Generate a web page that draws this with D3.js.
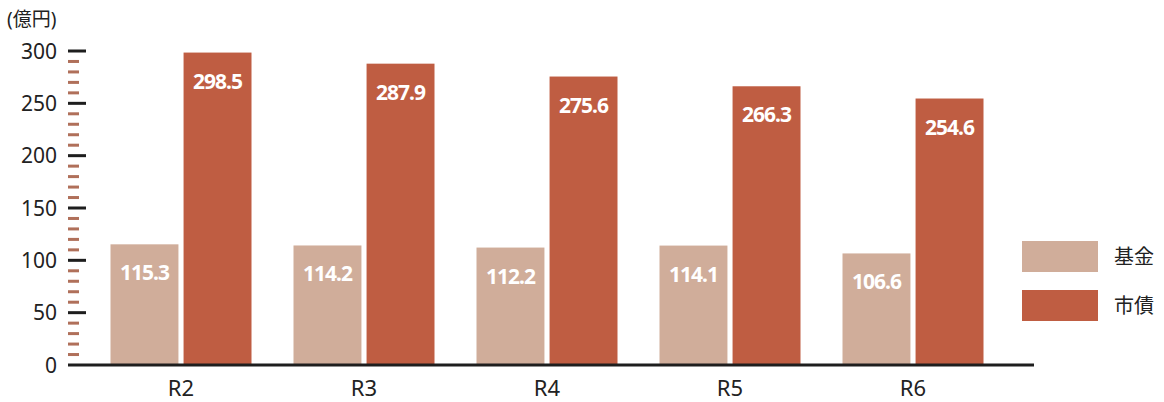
<!DOCTYPE html>
<html>
<head>
<meta charset="utf-8">
<script src="https://d3js.org/d3.v7.min.js"></script>
<style>
body { margin: 0; background: #fff; }
svg { font-family: "Noto Sans", "Noto Sans CJK JP", sans-serif; }
</style>
</head>
<body>
<svg id="chart" width="1164" height="402"></svg>
<script>
const categories = ["R2", "R3", "R4", "R5", "R6"];
const series = ["基金", "市債"];
const kikin = [115.3, 114.2, 112.2, 114.1, 106.6];
const shisai = [298.5, 287.9, 275.6, 266.3, 254.6];
const majorTicks = [0, 50, 100, 150, 200, 250, 300];
const colors = ["#d0ad9a", "#bf5d42"];

const svg = d3.select("#chart");
const y = d3.scaleLinear().domain([0, 300]).range([365, 51]);
const x0 = d3.scaleBand().domain(categories).range([89.5, 1004.5]);
const x1 = d3.scaleBand().domain(series).range([-70.5, 70.5]).paddingInner(0.07);
const color = d3.scaleOrdinal().domain(series).range(colors);

const rows = categories.map((c, i) => ({cat: c, values: [kikin[i], shisai[i]]}));

// minor ticks every 10
const minor = d3.range(10, 300, 10).filter(v => v % 50 != 0);
svg.append("g").selectAll("rect").data(minor).enter().append("rect")
  .attr("x", 68).attr("y", d => y(d) - 1.5)
  .attr("width", 11).attr("height", 3)
  .attr("fill", "#b0705a");

// major ticks
svg.append("g").selectAll("rect").data(majorTicks.filter(d => d > 0)).enter().append("rect")
  .attr("x", 68).attr("y", d => y(d) - 1.5)
  .attr("width", 18).attr("height", 3)
  .attr("fill", "#1e1e1e");

svg.append("g").selectAll("text").data(majorTicks).enter().append("text")
  .attr("x", 57).attr("y", d => y(d))
  .attr("dy", "0.36em")
  .attr("text-anchor", "end")
  .attr("fill", "#222")
  .style("font-size", "21px")
  .text(d => d);

svg.append("text").attr("x", 7).attr("y", 26)
  .attr("fill", "#222")
  .style("font-size", "19px")
  .text("(億円)");

// bars
const groups = svg.append("g").selectAll("g").data(rows).enter().append("g")
  .attr("transform", d => "translate(" + (x0(d.cat) + x0.bandwidth() / 2) + ",0)");

groups.selectAll("rect").data(d => d.values.map((v, i) => ({key: series[i], v: v}))).enter()
  .append("rect")
  .attr("x", d => x1(d.key))
  .attr("y", d => y(d.v))
  .attr("width", x1.bandwidth())
  .attr("height", d => y(0) - y(d.v))
  .attr("fill", d => color(d.key));

groups.selectAll("text").data(d => d.values.map((v, i) => ({key: series[i], v: v}))).enter()
  .append("text")
  .attr("x", d => x1(d.key) + x1.bandwidth() / 2)
  .attr("y", d => y(d.v) + 36)
  .attr("text-anchor", "middle")
  .attr("fill", "#fff")
  .style("font-size", "21px")
  .style("font-weight", "bold")
  .style("letter-spacing", "-1px")
  .text(d => d.v.toFixed(1));

// baseline
svg.append("rect").attr("x", 68).attr("y", y(0) - 1.5)
  .attr("width", 966).attr("height", 3).attr("fill", "#1e1e1e");

// category labels
svg.append("g").selectAll("text").data(categories).enter().append("text")
  .attr("x", d => x0(d) + x0.bandwidth() / 2)
  .attr("y", 396)
  .attr("text-anchor", "middle")
  .attr("fill", "#222")
  .style("font-size", "22px")
  .text(d => d);

// legend
const legend = svg.append("g").selectAll("g").data(series).enter().append("g")
  .attr("transform", (d, i) => "translate(1022," + (241 + i * 49) + ")");
legend.append("rect").attr("width", 76).attr("height", 31).attr("fill", d => color(d));
legend.append("text").attr("x", 92).attr("y", 16).attr("dy", "0.36em")
  .attr("fill", "#222")
  .style("font-size", "20px")
  .style("font-family", "'Noto Sans CJK JP', sans-serif")
  .text(d => d);
</script>
</body>
</html>
